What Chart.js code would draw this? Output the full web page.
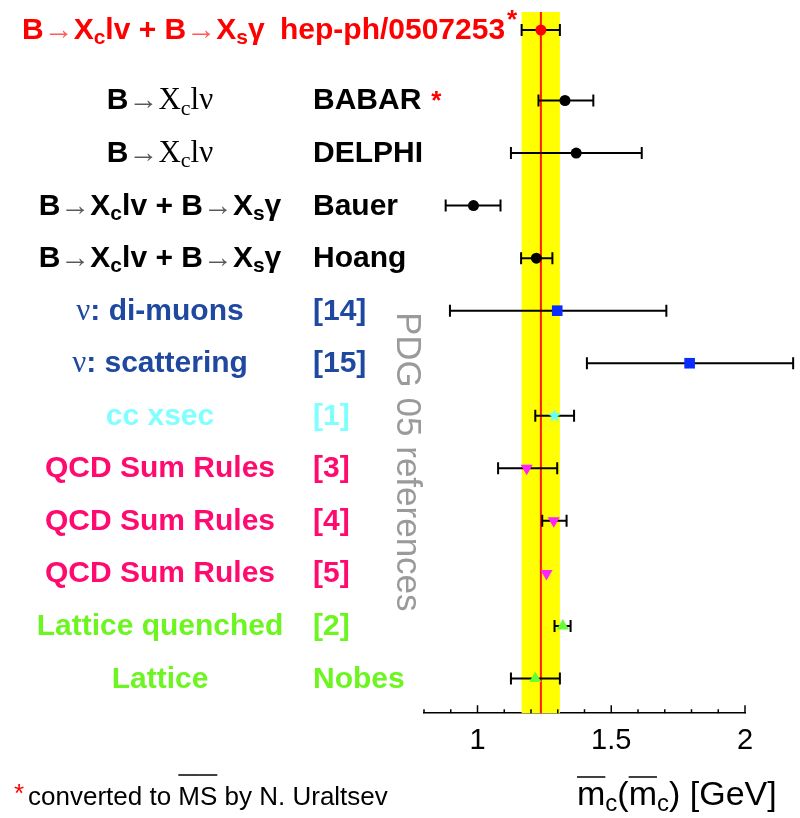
<!DOCTYPE html>
<html lang="en">
<head>
<meta charset="UTF-8">
<title>Charm quark mass determinations</title>
<script src="https://cdn.jsdelivr.net/npm/chart.js"></script>
<style>
  html, body { margin: 0; padding: 0; background: #fff; }
  canvas { display: block; }
</style>
</head>
<body>
<canvas id="mc-chart" width="800" height="818"></canvas>
<script>
// MS-bar charm mass, one row per determination (top row = combined fit)
// label markup: "_x" subscript, "~" toggles serif, "¯x" overline, "→" thin arrow
const methods = [
  'B→X_clv + B→X_sγ',
  'B→~X_clν',
  'B→~X_clν',
  'B→X_clv + B→X_sγ',
  'B→X_clv + B→X_sγ',
  '~ν~: di-muons',
  '~ν~: scattering',
  'cc xsec',
  'QCD Sum Rules',
  'QCD Sum Rules',
  'QCD Sum Rules',
  'Lattice quenched',
  'Lattice'
];
const sources = ['hep-ph/0507253', 'BABAR', 'DELPHI', 'Bauer', 'Hoang', '[14]', '[15]',
                 '[1]', '[3]', '[4]', '[5]', '[2]', 'Nobes'];
const groups = ['fit', 'b', 'b', 'b', 'b', 'nu', 'nu', 'cc', 'qcd', 'qcd', 'qcd', 'lat', 'lat'];
const starred = [true, true, false, false, false, false, false, false, false, false, false, false, false];

// central values and error ranges in GeV
const mc     = [1.237, 1.327, 1.369, 0.985, 1.220, 1.298, 1.793, 1.288, 1.184, 1.285, 1.258, 1.319, 1.216];
const mcLow  = [1.165, 1.228, 1.125, 0.881, 1.163, 0.897, 1.409, 1.216, 1.077, 1.242, null,  1.288, 1.125];
const mcHigh = [1.308, 1.433, 1.614, 1.086, 1.280, 1.706, 2.180, 1.361, 1.298, 1.333, null,  1.348, 1.308];

const xMin = 0.8, xMax = 2.0;
const xMajor = [1, 1.5, 2];

const groupStyle = {
  fit: { text: '#ff0000', marker: 'circle',   color: '#ff0000', r: 5.5 },
  b:   { text: '#000000', marker: 'circle',   color: '#000000', r: 5.5 },
  nu:  { text: '#1f48a0', marker: 'rect',     color: '#0a2cff', r: 7.5 },
  cc:  { text: '#80ffff', marker: 'star',     color: '#66ffff', r: 7 },
  qcd: { text: '#ff0a6e', marker: 'triangle', color: '#ff22ff', r: 7, rot: 180 },
  lat: { text: '#6cf520', marker: 'triangle', color: '#66ff33', r: 7 }
};

// first row sits a bit higher than the rest
const rowY = i => (i === 0 ? 0 : i + 0.34);

const SANS = '"Liberation Sans", Arial, sans-serif';
const SERIF = '"Liberation Serif", "Times New Roman", serif';
const LABEL_SIZE = 30;

function starMarker(color, r) {
  const c = document.createElement('canvas');
  c.width = c.height = 2 * r + 2;
  const g = c.getContext('2d');
  g.fillStyle = color;
  g.beginPath();
  for (let k = 0; k < 10; k++) {
    const a = -Math.PI / 2 + k * Math.PI / 5;
    const rr = k % 2 ? r * 0.45 : r;
    g.lineTo(r + 1 + rr * Math.cos(a), r + 1 + rr * Math.sin(a));
  }
  g.closePath();
  g.fill();
  return c;
}

function richParts(str) {
  const parts = [];
  let serif = false, sub = false, over = false;
  for (const ch of str) {
    if (ch === '~') { serif = !serif; continue; }
    if (ch === '_') { sub = true; continue; }
    if (ch === '¯') { over = true; continue; }
    parts.push({ ch, serif, sub, over, arrow: ch === '→' });
    sub = false;
    over = false;
  }
  return parts;
}

function drawRich(ctx, str, x, y, o) {
  const parts = richParts(str);
  const fontFor = p => {
    const size = p.sub ? Math.round(o.size * 0.7) : o.size;
    if (p.arrow) return `normal ${o.size}px ${SANS}`;
    if (p.serif) return `normal ${size + 1}px ${SERIF}`;
    return `${o.weight || 'normal'} ${size}px ${SANS}`;
  };
  let total = 0;
  parts.forEach(p => {
    ctx.font = fontFor(p);
    p.w = ctx.measureText(p.ch).width;
    total += p.w;
  });
  let cx = o.align === 'center' ? x - total / 2 : x;
  ctx.save();
  ctx.textAlign = 'left';
  ctx.textBaseline = 'alphabetic';
  ctx.fillStyle = o.color;
  ctx.strokeStyle = o.color;
  parts.forEach(p => {
    ctx.font = fontFor(p);
    ctx.globalAlpha = p.arrow ? 0.65 : 1;
    const dy = p.sub ? o.size * 0.17 : 0;
    ctx.fillText(p.ch, cx, y + dy);
    if (p.over) {
      ctx.lineWidth = 1.5;
      ctx.beginPath();
      ctx.moveTo(cx, y - o.overY);
      ctx.lineTo(cx + p.w, y - o.overY);
      ctx.stroke();
    }
    cx += p.w;
  });
  ctx.restore();
  return cx;
}

const decorations = {
  id: 'decorations',
  beforeDatasetsDraw(chart) {
    const { ctx, chartArea: a, scales: { x, y } } = chart;
    ctx.save();
    // world-average band and central line, taken from the fit row
    const bl = x.getPixelForValue(mcLow[0]);
    const bh = x.getPixelForValue(mcHigh[0]);
    ctx.fillStyle = '#ffff00';
    ctx.fillRect(bl, a.top, bh - bl, a.bottom - a.top);
    const bc = x.getPixelForValue(mc[0]);
    ctx.strokeStyle = '#ff1a00';
    ctx.lineWidth = 2;
    ctx.beginPath();
    ctx.moveTo(bc, a.top);
    ctx.lineTo(bc, a.bottom);
    ctx.stroke();

    // horizontal error bars with end caps
    ctx.strokeStyle = '#000';
    mc.forEach((v, i) => {
      if (mcLow[i] == null) return;
      const py = y.getPixelForValue(rowY(i));
      const lo = x.getPixelForValue(mcLow[i]);
      const hi = x.getPixelForValue(mcHigh[i]);
      ctx.lineWidth = 2;
      ctx.beginPath();
      ctx.moveTo(lo, py); ctx.lineTo(hi, py);
      ctx.moveTo(lo, py - 6); ctx.lineTo(lo, py + 6);
      ctx.moveTo(hi, py - 6); ctx.lineTo(hi, py + 6);
      ctx.stroke();
    });
    ctx.restore();
  },
  afterDraw(chart) {
    const { ctx, chartArea: a, scales: { x, y } } = chart;
    ctx.save();

    // tick marks point up into the plot
    ctx.strokeStyle = '#000';
    ctx.lineWidth = 1.5;
    x.ticks.forEach(t => {
      const v = Math.round(t.value * 10) / 10;
      const px = x.getPixelForValue(t.value);
      const len = xMajor.includes(v) ? 8 : 4;
      ctx.beginPath();
      ctx.moveTo(px, a.bottom);
      ctx.lineTo(px, a.bottom - len);
      ctx.stroke();
    });

    // row labels
    methods.forEach((m, i) => {
      const st = groupStyle[groups[i]];
      const base = y.getPixelForValue(rowY(i)) + 9;
      const opts = { size: LABEL_SIZE, weight: 'bold', color: st.text };
      let end;
      if (i === 0) {
        drawRich(ctx, m, 22, base, opts);
        end = drawRich(ctx, sources[i], 280, base, opts);
      } else {
        drawRich(ctx, m, 160, base, { ...opts, align: 'center' });
        end = drawRich(ctx, sources[i], 313, base, opts);
      }
      if (starred[i]) {
        ctx.font = `bold 26px ${SANS}`;
        ctx.fillStyle = '#ff0000';
        ctx.textAlign = 'left';
        ctx.textBaseline = 'alphabetic';
        if (i === 0) ctx.fillText('*', end + 2, base - 11);
        else ctx.fillText('*', end + 10, base);
      }
    });

    // vertical note
    ctx.save();
    ctx.translate(397, 312);
    ctx.rotate(Math.PI / 2);
    ctx.font = `normal 35px ${SANS}`;
    ctx.fillStyle = '#9a9a9a';
    ctx.textAlign = 'left';
    ctx.textBaseline = 'alphabetic';
    ctx.fillText('PDG 05 references', 0, 0);
    ctx.restore();

    // axis title
    drawRich(ctx, '¯m_c(¯m_c) [GeV]', 577, 805, { size: 34, color: '#000', overY: 28 });

    // footnote
    ctx.font = `normal 26px ${SANS}`;
    ctx.fillStyle = '#ff0000';
    ctx.textAlign = 'left';
    ctx.fillText('*', 14, 802);
    drawRich(ctx, 'converted to ¯M¯S by N. Uraltsev', 28, 805, { size: 26, color: '#000', overY: 30 });

    ctx.restore();
  }
};

new Chart(document.getElementById('mc-chart'), {
  type: 'scatter',
  data: {
    datasets: [{
      data: mc.map((v, i) => ({ x: v, y: rowY(i) })),
      pointStyle: groups.map(g => groupStyle[g].marker === 'star'
        ? starMarker(groupStyle[g].color, groupStyle[g].r)
        : groupStyle[g].marker),
      pointRadius: groups.map(g => groupStyle[g].r),
      pointRotation: groups.map(g => groupStyle[g].rot || 0),
      pointBackgroundColor: groups.map(g => groupStyle[g].color),
      pointBorderColor: groups.map(g => groupStyle[g].color),
      pointBorderWidth: 0,
      clip: false
    }]
  },
  options: {
    responsive: false,
    animation: false,
    devicePixelRatio: 1,
    layout: { padding: { left: 424, right: 55, top: 12, bottom: 50 } },
    plugins: { legend: { display: false }, tooltip: { enabled: false } },
    scales: {
      x: {
        type: 'linear',
        min: xMin,
        max: xMax,
        grid: { display: false, drawTicks: false },
        border: { display: true, color: '#000', width: 1.5 },
        ticks: {
          stepSize: 0.1,
          autoSkip: false,
          maxRotation: 0,
          padding: 10,
          color: '#000',
          font: { family: SANS, size: 29 },
          callback: v => {
            const r = Math.round(v * 10) / 10;
            return xMajor.includes(r) ? String(r) : '';
          }
        }
      },
      y: { display: false, reverse: true, min: -0.344, max: 13 }
    }
  },
  plugins: [decorations]
});
</script>
</body>
</html>
